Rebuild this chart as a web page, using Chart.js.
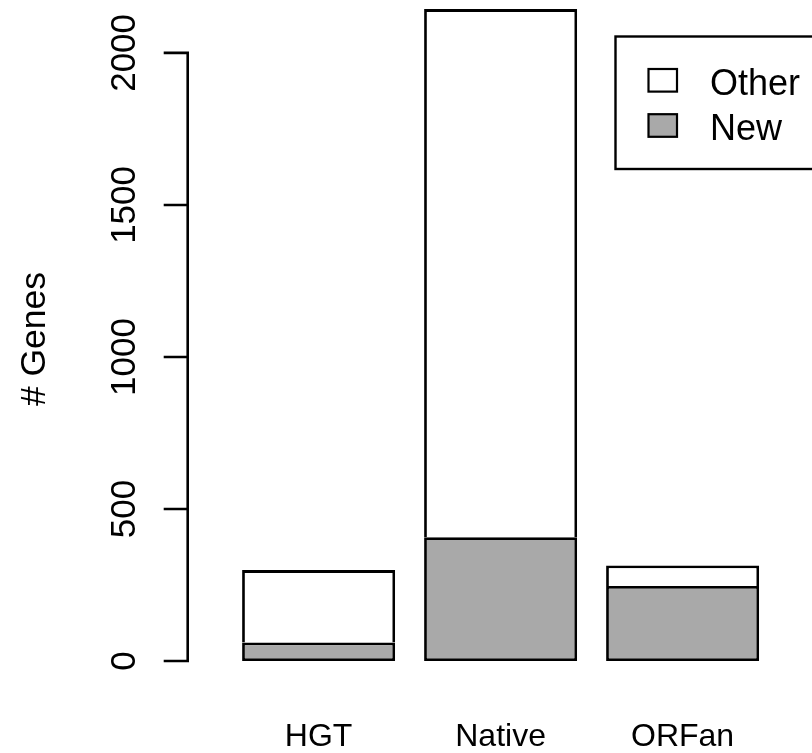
<!DOCTYPE html>
<html>
<head>
<meta charset="utf-8">
<title># Genes</title>
<script src="https://cdn.jsdelivr.net/npm/chart.js@4.4.1/dist/chart.umd.min.js"></script>
<style>
  html, body { margin: 0; padding: 0; background: #ffffff; }
  #wrap { width: 812px; height: 753px; position: relative; }
</style>
</head>
<body>
<div id="wrap"><canvas id="chart" width="812" height="753"></canvas></div>
<script>
// Gene counts per origin class, split into newly found genes and the rest
const categories = ['HGT', 'Native', 'ORFan'];
const newGenes   = [61, 407, 247];
const otherGenes = [238, 1737, 67];
const yTicks     = [0, 500, 1000, 1500, 2000];
const yTitle     = '# Genes';

const FONT = "'Liberation Sans', Arial, Helvetica, sans-serif";
const GREY = '#a9a9a9';

// R-style axes: a detached y axis spanning first to last tick, rotated labels,
// plain category names under the bars, and a boxed legend.
const baseGraphics = {
  id: 'baseGraphics',
  afterDraw(chart) {
    const ctx = chart.ctx;
    const y = chart.scales.y;
    const x = chart.scales.x;
    const axisX = 187.7;

    ctx.save();
    ctx.strokeStyle = '#000';
    ctx.fillStyle = '#000';
    ctx.lineWidth = 2.6;
    ctx.lineCap = 'butt';

    // y axis line and tick marks
    const y0 = y.getPixelForValue(yTicks[0]);
    const y1 = y.getPixelForValue(yTicks[yTicks.length - 1]);
    ctx.beginPath();
    ctx.moveTo(axisX, y0 + 1.3);
    ctx.lineTo(axisX, y1 - 1.3);
    yTicks.forEach(v => {
      const py = y.getPixelForValue(v);
      ctx.moveTo(axisX, py);
      ctx.lineTo(axisX - 24, py);
    });
    ctx.stroke();

    // rotated tick labels
    ctx.font = '35px ' + FONT;
    ctx.textAlign = 'center';
    ctx.textBaseline = 'alphabetic';
    yTicks.forEach(v => {
      const py = y.getPixelForValue(v);
      ctx.save();
      ctx.translate(135, py);
      ctx.rotate(-Math.PI / 2);
      ctx.fillText(String(v), 0, 0);
      ctx.restore();
    });

    // y axis title
    ctx.save();
    ctx.translate(45, (chart.chartArea.top + chart.chartArea.bottom) / 2 + 8.5);
    ctx.rotate(-Math.PI / 2);
    ctx.font = '35.5px ' + FONT;
    ctx.fillText(yTitle, 0, 0);
    ctx.restore();

    // category names
    ctx.font = '32px ' + FONT;
    categories.forEach((c, i) => {
      ctx.fillText(c, x.getPixelForValue(i), 745.5);
    });

    // legend box
    ctx.lineWidth = 2.4;
    ctx.strokeRect(615.5, 36.5, 240, 132.5);
    const items = [chart.data.datasets[1], chart.data.datasets[0]];
    ctx.font = '36px ' + FONT;
    ctx.textAlign = 'left';
    items.forEach((ds, k) => {
      const cy = 80.3 + k * 45.2;
      ctx.fillStyle = ds.backgroundColor;
      ctx.fillRect(648.5, cy - 11.3, 28.5, 22.6);
      ctx.lineWidth = 2.2;
      ctx.strokeRect(648.5, cy - 11.3, 28.5, 22.6);
      ctx.fillStyle = '#000';
      ctx.fillText(ds.label, 710, cy + 14.5);
    });
    ctx.restore();
  }
};

new Chart(document.getElementById('chart'), {
  type: 'bar',
  data: {
    labels: categories,
    datasets: [
      {
        label: 'New',
        data: newGenes,
        backgroundColor: GREY,
        borderColor: '#000',
        borderWidth: 2.8,
        borderSkipped: false
      },
      {
        label: 'Other',
        data: otherGenes,
        backgroundColor: '#ffffff',
        borderColor: '#000',
        borderWidth: 2.8,
        borderSkipped: 'bottom'
      }
    ]
  },
  options: {
    responsive: false,
    animation: false,
    devicePixelRatio: 1,
    layout: { padding: { left: 227.6, right: 38.4, top: 0, bottom: 92 } },
    datasets: { bar: { categoryPercentage: 0.8407, barPercentage: 1 } },
    scales: {
      x: { stacked: true, display: false },
      y: { stacked: true, display: false, min: 0, max: 2174 }
    },
    plugins: {
      legend: { display: false },
      tooltip: { enabled: false }
    }
  },
  plugins: [baseGraphics]
});
</script>
</body>
</html>
